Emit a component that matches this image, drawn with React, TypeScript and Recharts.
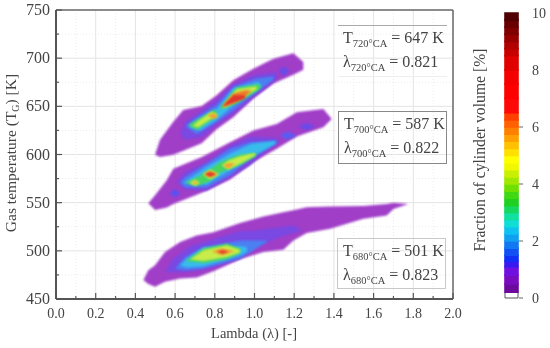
import React from "react";
import {
  ComposedChart, BarChart, Bar, Area, XAxis, YAxis, CartesianGrid, ReferenceLine, Label,
} from "recharts";

type Row = [number, number, number]; // lambda, lower T, upper T

const xTicks = [0, 0.1, 0.2, 0.3, 0.4, 0.5, 0.6, 0.7, 0.8, 0.9, 1.0, 1.1, 1.2, 1.3, 1.4, 1.5, 1.6, 1.7, 1.8, 1.9, 2.0];
const yTicks = [450, 475, 500, 525, 550, 575, 600, 625, 650, 675, 700, 725, 750];
const xMajor = [0.2, 0.4, 0.6, 0.8, 1.0, 1.2, 1.4, 1.6, 1.8];
const xMinor = [0.1, 0.3, 0.5, 0.7, 0.9, 1.1, 1.3, 1.5, 1.7, 1.9];
const yMajor = [500, 550, 600, 650, 700];
const yMinor = [475, 525, 575, 625, 675, 725];

const PURPLE = "#a03ec8", VIOLET = "#7a48e2", BLUE = "#4a80f2", CYAN = "#38bcec",
  GREEN = "#48d462", LIME = "#c8ec4a", ORANGE = "#f2a032", DEEP = "#f07a2a", RED = "#e0342c";

// 720 CA
const t720Outer: Row[] = [[0.499, 599.7, 599.7], [0.524, 597.3, 615.2], [0.591, 599.7, 634.1], [0.641, 603.8, 646.1], [0.734, 611.8, 650.3], [0.809, 626.2, 661.6], [0.893, 638.6, 677.1], [0.994, 658.2, 689.1], [1.095, 673.6, 699.4], [1.196, 682.9, 705.2], [1.246, 688.1, 696]];
const t720Violet: Row[] = [[0.625, 622.1, 622.1], [0.65, 615.2, 634.1], [0.734, 617.9, 645.4], [0.81, 630.7, 657.1], [0.894, 642, 672.9], [0.994, 659.2, 682.2], [1.104, 676.4, 685.6], [1.115, 680.5, 681.2]];
const t720Island: Row[] = [[1.12, 686.7, 686.7], [1.149, 681.2, 691.5], [1.176, 686.7, 686.7]];
const t720Blue: Row[] = [[0.658, 628.3, 630.7], [0.709, 621.4, 638.6], [0.81, 634.1, 651.3], [0.894, 646.1, 670.2], [1.011, 665, 678.8], [1.095, 677.7, 681.2]];
const t720Cyan: Row[] = [[0.675, 628.3, 630.7], [0.726, 624.8, 637.5], [0.813, 636.5, 647.8], [0.894, 651.3, 668.5], [1.019, 668.3, 675.3], [1.036, 671.9, 671.9]];
const t720GreenA: Row[] = [[0.667, 630.7, 630.7], [0.709, 625.5, 635.8], [0.801, 638.6, 646.8], [0.813, 642.7, 642.7]];
const t720GreenB: Row[] = [[0.83, 646.8, 649.6], [0.91, 653, 669.5], [1.019, 666.7, 672.9], [1.036, 670.2, 670.2]];
const t720LimeA: Row[] = [[0.689, 629.6, 629.6], [0.717, 628.3, 634.8], [0.784, 637.5, 644.4], [0.818, 641, 641]];
const t720LimeB: Row[] = [[0.843, 647.8, 651.3], [0.91, 656.4, 667.8], [1.011, 667.4, 670.9]];
const t720OrangeA: Row[] = [[0.763, 641, 641], [0.793, 636.5, 642.7], [0.818, 639.2, 639.2]];
const t720OrangeB: Row[] = [[0.84, 649.6, 649.6], [0.894, 653, 663.3], [0.952, 659.9, 666.7], [0.986, 666.1, 666.1]];
const t720Red: Row[] = [[0.84, 649.6, 650.6], [0.894, 654, 661.6], [0.952, 658.2, 661.6]];

// 700 CA
const t700Outer: Row[] = [[0.465, 549.3, 549.3], [0.499, 542.4, 557.8], [0.558, 545.1, 573.3], [0.591, 548.6, 585.3], [0.734, 560.3, 597.4], [0.877, 574, 612.8], [0.994, 592.2, 624.9], [1.112, 606, 631.7], [1.213, 618.7, 643.8], [1.347, 628.3, 647.2], [1.389, 636.9, 636.9]];
const t700Violet: Row[] = [[0.608, 571.6, 571.6], [0.65, 563.7, 581.9], [0.759, 562.3, 592.2], [0.877, 576.1, 609.4], [0.978, 588.8, 618.6], [1.104, 611.1, 617.3], [1.129, 613.9, 613.9]];
const t700IslandA: Row[] = [[1.125, 619.7, 619.7], [1.166, 615.2, 623.8], [1.213, 619.7, 619.7]];
const t700IslandB: Row[] = [[1.221, 629, 629], [1.263, 624.9, 632.8], [1.305, 629, 629]];
const t700IslandC: Row[] = [[0.574, 559.6, 559.6], [0.6, 555.4, 564.7], [0.625, 559.6, 559.6]];
const t700Blue: Row[] = [[0.625, 570.6, 570.6], [0.65, 565.8, 576.7], [0.759, 565.8, 590.5], [0.877, 578.5, 606], [0.978, 595.7, 612.8], [1.112, 611.1, 614.6]];
const t700Cyan: Row[] = [[0.642, 570.6, 570.6], [0.759, 569.2, 587.1], [0.877, 583.6, 600.8], [0.986, 597.4, 611.1], [1.104, 611.1, 613.9]];
const t700Green: Row[] = [[0.65, 570.6, 570.6], [0.709, 567, 576], [0.772, 572, 584], [0.826, 581, 592], [0.927, 589, 600], [1.008, 598.1, 601.5]];
const t700LimeA: Row[] = [[0.672, 570.6, 570.6], [0.7, 567.5, 574], [0.726, 570.6, 570.6]];
const t700LimeB: Row[] = [[0.739, 579.5, 579.5], [0.776, 574, 584.3], [0.823, 579.5, 579.5]];
const t700LimeC: Row[] = [[0.835, 588.8, 588.8], [0.868, 584.3, 593.9], [0.927, 590.5, 598.1], [1.003, 599.1, 601.5]];
const t700OrangeA: Row[] = [[0.689, 570.6, 570.6], [0.7, 569.2, 572.6], [0.714, 570.6, 570.6]];
const t700OrangeB: Row[] = [[0.746, 579.5, 579.5], [0.776, 576.1, 582.9], [0.813, 579.5, 579.5]];
const t700OrangeC: Row[] = [[0.843, 588.8, 588.8], [0.868, 585.3, 591.2], [0.902, 590.5, 590.5]];
const t700Red: Row[] = [[0.751, 579.5, 579.5], [0.776, 577.1, 581.6], [0.806, 579.5, 579.5]];

// 680 CA
const t680Outer: Row[] = [[0.44, 469.6, 469.6], [0.465, 465.5, 479.9], [0.499, 462.7, 485], [0.549, 467.9, 498.8], [0.625, 471.3, 509.1], [0.709, 472.4, 516], [0.793, 478.9, 519.4], [0.927, 491.3, 529], [1.045, 498.8, 535.6], [1.145, 501.2, 540.1], [1.196, 510.8, 542], [1.263, 518.4, 545.2], [1.381, 522.9, 545.9], [1.549, 533.2, 546.6], [1.666, 536.6, 548.7], [1.7, 543.5, 550], [1.775, 548.7, 548.7]];
const t680Violet: Row[] = [[0.549, 478.2, 478.2], [0.591, 477.5, 491.9], [0.675, 478.2, 504.7], [0.793, 482.7, 511.9], [0.927, 491.9, 520.5], [0.977, 501.2, 520.5], [1.129, 514.3, 524.6], [1.196, 518.4, 526.3], [1.238, 521.2, 521.2]];
const t680Blue: Row[] = [[0.6, 481.6, 481.6], [0.65, 479.9, 493.7], [0.743, 481.6, 504], [0.927, 491.9, 510.8], [1.062, 509.1, 510.8]];
const t680Cyan: Row[] = [[0.625, 485, 485], [0.659, 482.7, 491.9], [0.743, 484, 503.3], [0.927, 495.4, 504.7], [0.961, 498.8, 504]];
const t680Green: Row[] = [[0.654, 489.5, 489.5], [0.743, 487.5, 502.3], [0.86, 491.3, 507.4], [0.927, 497.8, 502.3]];
const t680Lime: Row[] = [[0.675, 490.9, 490.9], [0.743, 489.5, 500.5], [0.86, 493.7, 505.7], [0.927, 498.2, 501.2]];
const t680Orange: Row[] = [[0.784, 499.5, 499.5], [0.835, 495.4, 502.3], [0.902, 499.5, 499.5]];
const t680Red: Row[] = [[0.81, 499.2, 499.2], [0.84, 497.1, 500.5], [0.87, 499.2, 499.2]];

const layers: [Row[], string][] = [
  [t720Outer, PURPLE], [t720Violet, VIOLET], [t720Island, "#6a4ae8"], [t720Blue, BLUE], [t720Cyan, CYAN],
  [t720GreenA, GREEN], [t720GreenB, GREEN], [t720LimeA, LIME], [t720LimeB, LIME],
  [t720OrangeA, ORANGE], [t720OrangeB, DEEP], [t720Red, RED],
  [t700Outer, PURPLE], [t700Violet, VIOLET], [t700IslandA, "#5a5cf2"], [t700IslandB, "#6a4ae8"], [t700IslandC, "#5a50f0"],
  [t700Blue, BLUE], [t700Cyan, CYAN], [t700Green, GREEN],
  [t700LimeA, LIME], [t700LimeB, LIME], [t700LimeC, LIME],
  [t700OrangeA, ORANGE], [t700OrangeB, DEEP], [t700OrangeC, ORANGE], [t700Red, RED],
  [t680Outer, PURPLE], [t680Violet, VIOLET], [t680Blue, BLUE], [t680Cyan, CYAN], [t680Green, GREEN],
  [t680Lime, LIME], [t680Orange, ORANGE], [t680Red, RED],
];

const colorLevels = [0, 0.2, 0.5, 0.8, 1.1, 1.3, 1.5, 1.75, 2, 2.25, 2.5, 2.75, 3, 3.25, 3.5, 3.75, 4, 4.25, 4.5, 4.75, 5, 5.25, 5.5, 5.75, 6, 6.25, 6.5, 7, 7.5, 8, 8.5, 8.75, 9, 9.25, 9.5, 9.75, 10];
const colorFills = ["#ffffff", "#6c0a9e", "#7a0cc0", "#7010e0", "#3a18f0", "#1030f8", "#1050f4", "#1078f0", "#10a0f0", "#10c0f0", "#10dcd8", "#10e0a0", "#14d860", "#20d020", "#40d810", "#70e000", "#a0e800", "#c8f000", "#f0f800", "#ffff00", "#ffe000", "#ffc000", "#ffa000", "#ff8000", "#ff6000", "#ff4000", "#ff0808", "#ff0000", "#f40000", "#e00000", "#c80000", "#b00000", "#980000", "#800000", "#680000", "#500000"];
const colorTicks = [0, 2, 4, 6, 8, 10];
const colorRow: Record<string, number> = { name: 0 } as any;
colorFills.forEach((_, i) => { colorRow["b" + i] = colorLevels[i + 1] - colorLevels[i]; });

const notes = [
  { angle: "720", temp: "647 K", lam: "0.821", left: 338, top: 25, height: 52, border: "none", borderTop: "1px solid #aaa", borderBottom: "1px solid #eee" },
  { angle: "700", temp: "587 K", lam: "0.822", left: 338, top: 111, height: 53, border: "1px solid #888" },
  { angle: "680", temp: "501 K", lam: "0.823", left: 337, top: 238, height: 51, border: "1px solid #c8c8c8" },
];

const INK = "#444";
const SERIF = "'Liberation Serif', serif";

const XTick = (p: any) => {
  const v = Math.round(p.payload.value * 10);
  const major = v % 2 === 0;
  return (
    <g>
      <line x1={p.x} x2={p.x} y1={299} y2={major ? 293 : 296} stroke="#555" strokeWidth={1.2} />
      {major && <text x={p.x} y={318} textAnchor="middle" fontSize={14} fontFamily={SERIF} fill={INK}>{p.payload.value.toFixed(1)}</text>}
    </g>
  );
};
const YTick = (p: any) => {
  const major = p.payload.value % 50 === 0;
  return (
    <g>
      <line x1={56} x2={major ? 62 : 59} y1={p.y} y2={p.y} stroke="#555" strokeWidth={1.2} />
      {major && <text x={50} y={p.y + 5} textAnchor="end" fontSize={16} fontFamily={SERIF} fill={INK}>{p.payload.value}</text>}
    </g>
  );
};
const ScaleTick = (p: any) => (
  <g>
    {p.payload.value <= 6 && <line x1={p.x - 13} x2={p.x - 9} y1={p.y} y2={p.y} stroke="#666" />}
    <text x={p.x} y={p.y + 5} fontSize={14} fontFamily={SERIF} fill={INK}>{p.payload.value}</text>
  </g>
);

export default function App() {
  return (
    <div style={{ position: "absolute", left: 0, top: 0, width: 550, height: 348, background: "#fff", overflow: "hidden", filter: "blur(0.35px)" }}>
      <style>{`.recharts-area{filter:blur(0.9px)}`}</style>
      <div style={{ position: "absolute", left: 0, top: 0 }}>
        <ComposedChart width={480} height={348} margin={{ top: 10, right: 27, bottom: 0, left: 0 }}>
          <CartesianGrid horizontalValues={yMinor} verticalValues={xMinor} stroke="#eaeaea" strokeDasharray="1 2" />
          <CartesianGrid horizontalValues={yMajor} verticalValues={xMajor} stroke="#e4e4e4" />
          <XAxis type="number" dataKey="x" domain={[0, 2]} ticks={xTicks} interval={0} height={49} tick={<XTick />} tickLine={false} tickSize={0} stroke="#555" strokeWidth={2} allowDataOverflow>
            <Label content={() => <text x={254} y={338} textAnchor="middle" fontSize={14.5} fontFamily={SERIF} fill={INK}>Lambda (λ) [-]</text>} />
          </XAxis>
          <YAxis type="number" domain={[450, 750]} ticks={yTicks} interval={0} width={56} tick={<YTick />} tickLine={false} tickSize={0} stroke="#555" strokeWidth={2} allowDataOverflow>
            <Label content={() => (
              <text transform="translate(16,153) rotate(-90)" textAnchor="middle" fontSize={15.5} fontFamily={SERIF} fill={INK}>
                Gas temperature (T<tspan dy={3} fontSize={10}>G</tspan><tspan dy={-3}>) [K]</tspan>
              </text>
            )} />
          </YAxis>
          {layers.map(([rows, fill], i) => (
            <Area
              key={i}
              type="linear"
              data={rows.map(([x, lo, hi]) => ({ x, band: [lo, hi] }))}
              dataKey="band"
              fill={fill}
              fillOpacity={1}
              stroke="none"
              dot={false}
              activeDot={false}
              isAnimationActive={false}
            />
          ))}
          <ReferenceLine x={2} stroke="#666" strokeWidth={1.5} />
          <ReferenceLine y={750} stroke="#666" strokeWidth={1.5} />
        </ComposedChart>
      </div>

      {notes.map((n) => (
        <div key={n.angle} style={{ position: "absolute", left: n.left, top: n.top, width: 109, height: n.height, boxSizing: "border-box", border: n.border, borderTop: (n as any).borderTop ?? n.border, borderBottom: (n as any).borderBottom ?? n.border, fontFamily: SERIF, fontSize: 16, color: INK, padding: "0 0 0 5px", lineHeight: "24px", whiteSpace: "nowrap" }}>
          <div>T<sub style={{ fontSize: 10.5, lineHeight: 0 }}>{n.angle}°CA</sub> = {n.temp}</div>
          <div>λ<sub style={{ fontSize: 10.5, lineHeight: 0 }}>{n.angle}°CA</sub> = {n.lam}</div>
        </div>
      ))}

      <div style={{ position: "absolute", left: 500, top: 0, filter: "blur(0.5px)" }}>
        <BarChart width={50} height={348} data={[colorRow]} margin={{ top: 13, right: 0, bottom: 50, left: 5 }} barCategoryGap={0}>
          <XAxis dataKey="name" hide />
          <YAxis orientation="right" type="number" domain={[0, 10]} ticks={colorTicks} interval={0} width={32} tick={<ScaleTick />} tickLine={false} tickSize={0} tickMargin={14} stroke="#666" axisLine={false} />
          {colorFills.map((c, i) => (
            <Bar key={c + i} dataKey={"b" + i} stackId="scale" fill={c} stroke={i === 0 ? "#555" : c} strokeWidth={i === 0 ? 1 : 1.6} isAnimationActive={false} />
          ))}
        </BarChart>
      </div>
      <svg width={30} height={348} style={{ position: "absolute", left: 465, top: 0 }}>
        <text transform="translate(20,150) rotate(-90)" textAnchor="middle" fontSize={15.7} fontFamily={SERIF} fill={INK}>Fraction of cylinder volume [%]</text>
      </svg>
    </div>
  );
}
